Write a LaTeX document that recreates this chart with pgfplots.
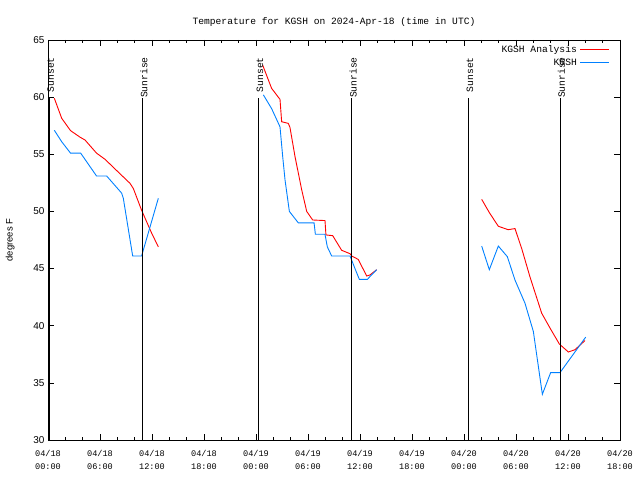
\documentclass[border=0pt]{standalone}
\usepackage{fontspec}
\setmainfont{Liberation Mono}
\newfontfamily\sansf{Liberation Sans}
\usepackage{pgfplots}
\pgfplotsset{compat=1.18}
\definecolor{anred}{RGB}{255,0,0}
\definecolor{obblue}{RGB}{0,128,255}
\begin{document}
\begin{tikzpicture}[x=1bp,y=1bp]
\useasboundingbox (0,0) rectangle (640,480);
\begin{axis}[
  at={(48bp,40bp)}, anchor=south west,
  width=572bp, height=400bp, scale only axis,
  xmin=0, xmax=66, ymin=30, ymax=65,
  xtick={0,6,...,66},
  xticklabels={{04/18\\00:00},{04/18\\06:00},{04/18\\12:00},{04/18\\18:00},{04/19\\00:00},{04/19\\06:00},{04/19\\12:00},{04/19\\18:00},{04/20\\00:00},{04/20\\06:00},{04/20\\12:00},{04/20\\18:00}},
  minor xtick={2,4,8,10,14,16,20,22,26,28,32,34,38,40,44,46,50,52,56,58,62,64},
  ytick={30,35,...,65},
  xticklabel style={align=center, font=\fontsize{8.6}{13}\selectfont, yshift=-7bp},
  yticklabel style={font=\sansf\fontsize{10}{11}\selectfont},
  /pgf/number format/assume math mode=true,
  major tick length=6bp, minor tick length=3bp,
  tick style={black, line width=0.6bp},
  axis line style={line width=0.8bp},
  title={Temperature for KGSH on 2024-Apr-18 (time in UTC)},
  title style={font=\fontsize{9.65}{10}\selectfont, yshift=4bp},
  legend style={draw=none, fill=none, at={(rel axis cs:0.9825,0.99)}, anchor=north east, font=\fontsize{9.7}{10}\selectfont, legend cell align=right, row sep=2bp, inner sep=0pt, column sep=2bp, nodes={inner sep=1bp, text height=7bp, text depth=2bp}},
  legend plot pos=right,
  legend image code/.code={\draw[#1] (0bp,0bp) -- (29bp,0bp);},
  clip=false,
]
\addplot[anred, line width=0.9bp] coordinates {
(0.73,59.9) (1.58,58.15) (2.6,57.07) (3.69,56.5) (4.27,56.25) (5.6,55.1) (6.58,54.56) (8.3,53.3) (9.46,52.46) (9.85,52.0) (10.8,50.1) (11.96,48.1) (12.73,46.9)};
\addlegendentry{KGSH Analysis}
\addplot[obblue, line width=0.9bp] coordinates {
(0.73,57.1) (1.58,56.1) (2.6,55.1) (3.77,55.1) (5.6,53.1) (6.77,53.1) (8.5,51.6) (8.69,51.15) (9.77,46.1) (10.8,46.1) (12.73,51.15)};
\addlegendentry{KGSH}
% day 2
\addplot[anred, line width=0.9bp, forget plot] coordinates {
(24.77,62.8) (25.8,60.77) (26.77,59.8) (26.96,57.85) (27.73,57.7) (27.92,57.35) (28.5,54.8) (29.27,51.9) (29.85,50.0) (30.54,49.25) (31.96,49.2) (32.07,47.94) (32.85,47.88) (33.88,46.6) (34.85,46.3) (35.04,46.1) (35.8,45.8) (36.77,44.35) (37.15,44.44) (37.92,44.9)};
\addplot[obblue, line width=0.9bp, forget plot] coordinates {
(24.85,60.2) (25.8,59.0) (26.77,57.4) (27.08,54.8) (27.35,52.75) (27.85,50.0) (28.88,49.0) (30.7,49.0) (30.85,48.0) (31.96,48.0) (32.23,46.9) (32.73,46.1) (34.85,46.1) (35.42,45.0) (35.92,44.06) (36.85,44.06) (37.92,44.9)};
% day 3
\addplot[anred, line width=0.9bp, forget plot] coordinates {
(50.04,51.06) (50.92,49.9) (51.96,48.7) (53.1,48.4) (53.88,48.5) (54.65,46.77) (55.6,44.3) (56.96,41.1) (57.92,39.8) (59.0,38.4) (60.04,37.7) (60.8,37.9) (61.96,38.7)};
\addplot[obblue, line width=0.9bp, forget plot] coordinates {
(50.04,46.97) (50.92,44.9) (51.96,46.97) (53.0,46.04) (53.88,44.0) (55.04,41.96) (56.0,39.5) (57.04,34.0) (58.0,35.9) (59.08,35.9) (60.8,37.7) (62.04,39.0)};
% sunrise / sunset lines
\addplot[black, line width=0.9bp, forget plot] coordinates {(0.15,30) (0.15,59.93)};
\addplot[black, line width=0.9bp, forget plot] coordinates {(10.88,30) (10.88,59.93)};
\addplot[black, line width=0.9bp, forget plot] coordinates {(24.27,30) (24.27,59.93)};
\addplot[black, line width=0.9bp, forget plot] coordinates {(35.04,30) (35.04,59.93)};
\addplot[black, line width=0.9bp, forget plot] coordinates {(48.5,30) (48.5,59.93)};
\addplot[black, line width=0.9bp, forget plot] coordinates {(59.08,30) (59.08,59.93)};
\foreach \xx/\tt in {0.15/Sunset,10.88/Sunrise,24.27/Sunset,35.04/Sunrise,48.5/Sunset,59.08/Sunrise}{
  \edef\tmp{\noexpand\node[xshift=1.5bp, rotate=90, anchor=east, inner sep=0pt, font=\noexpand\fontsize{9.7}{10}\noexpand\selectfont] at (axis cs:\xx,63.5) {\tt};}
  \tmp
}
\node[rotate=90, anchor=center, inner sep=0pt, font=\sansf\fontsize{9.5}{10}\selectfont] at (rel axis cs:-0.066,0.5) {degrees F};
\end{axis}
\end{tikzpicture}
\end{document}
